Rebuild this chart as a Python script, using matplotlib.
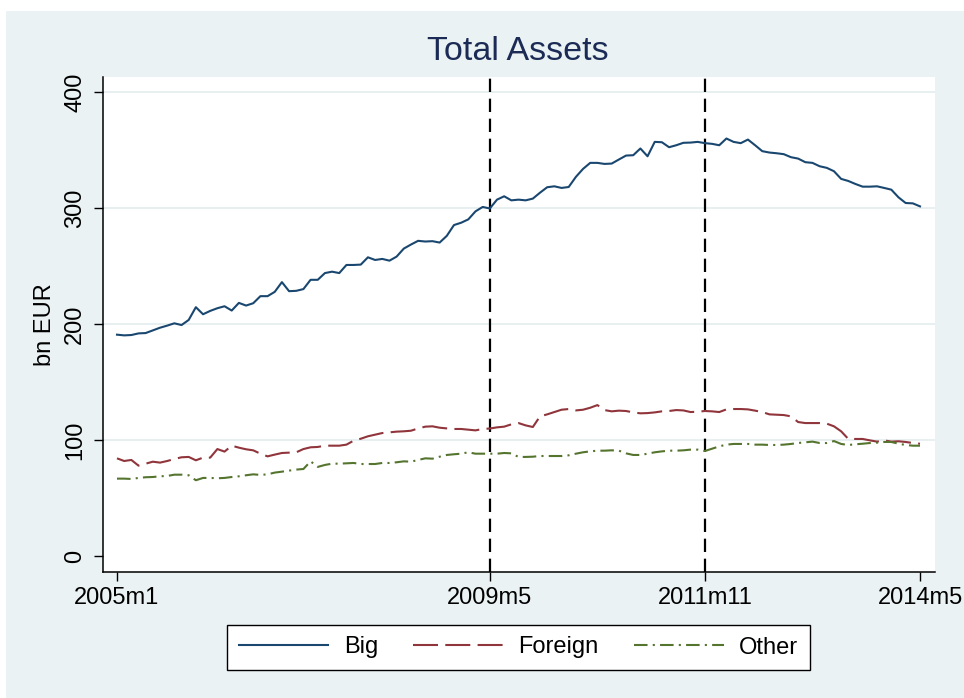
import matplotlib
matplotlib.use("Agg")
import matplotlib.pyplot as plt
from matplotlib.patches import Rectangle
from matplotlib.lines import Line2D

# ---- data (bn EUR), monthly 2005m1 .. 2014m5 ----
big = [190.8, 190.2, 190.5, 191.9, 192.2, 194.5, 196.8, 198.6, 200.6, 199.1,
       203.5, 214.5, 208.4, 211.3, 213.6, 215.3, 211.6, 218.2, 215.9, 217.9,
       224.0, 224.0, 227.7, 236.1, 228.3, 228.6, 230.1, 238.1, 238.1, 243.9,
       245.1, 243.9, 250.9, 250.9, 251.2, 257.5, 255.2, 256.1, 254.6, 258.1,
       265.0, 268.5, 271.7, 271.1, 271.4, 270.2, 276.0, 285.3, 287.3, 290.2,
       297.1, 300.9, 299.6, 307.2, 310.1, 306.6, 307.2, 306.6, 308.1, 313.2,
       317.9, 318.7, 317.3, 318.1, 326.8, 333.7, 338.9, 338.9, 338.0, 338.3,
       341.8, 345.2, 345.5, 351.3, 344.6, 357.0, 356.7, 352.4, 354.1, 356.2,
       356.4, 357.0, 355.9, 355.3, 354.1, 359.9, 357.0, 355.9, 359.0, 354.1,
       349.0, 347.8, 347.2, 346.4, 343.8, 342.6, 339.5, 338.9, 336.0, 334.6,
       331.7, 325.1, 323.3, 320.7, 318.4, 318.4, 318.7, 317.3, 315.8, 309.2,
       304.3, 304.0, 301.4]
foreign = [84.2, 81.9, 82.8, 77.9, 79.6, 81.3, 80.5, 81.9, 83.6, 85.1,
           85.4, 82.5, 84.8, 84.8, 92.2, 90.0, 95.1, 93.4, 92.0, 91.1,
           88.2, 85.9, 87.4, 88.8, 89.1, 89.4, 92.2, 93.7, 94.0, 95.1,
           95.1, 95.1, 96.0, 99.4, 101.1, 103.2, 104.6, 106.0, 106.6, 107.2,
           107.5, 108.0, 110.0, 111.5, 111.8, 110.6, 110.0, 109.5, 109.5, 108.9,
           108.3, 109.5, 109.9, 110.9, 111.5, 113.5, 114.6, 112.6, 111.2, 120.4,
           122.1, 124.1, 126.1, 126.7, 125.5, 126.1, 127.8, 130.1, 125.8, 124.7,
           125.3, 125.0, 123.8, 123.0, 123.2, 123.8, 124.7, 125.0, 125.8, 125.5,
           124.1, 124.4, 125.0, 124.7, 124.1, 126.4, 126.7, 126.7, 126.4, 125.3,
           124.1, 122.1, 121.8, 121.5, 120.4, 115.5, 114.6, 114.6, 114.6, 114.1,
           111.8, 107.5, 100.9, 100.9, 100.9, 99.7, 98.6, 99.7, 98.6, 98.9,
           98.3, 97.4, 96.8]
other = [66.7, 66.7, 66.4, 67.3, 67.9, 68.1, 68.7, 69.0, 70.1, 70.1,
         69.6, 65.3, 67.3, 67.3, 67.0, 67.3, 68.1, 68.7, 69.6, 70.4,
         69.9, 70.4, 71.9, 72.7, 73.6, 74.5, 75.0, 81.6, 76.8, 78.5,
         79.6, 79.6, 79.9, 80.2, 79.3, 79.3, 79.3, 80.2, 80.2, 80.8,
         81.6, 81.3, 82.8, 84.2, 83.9, 85.6, 87.1, 87.7, 88.2, 89.4,
         88.2, 88.2, 88.2, 88.2, 88.8, 88.5, 85.4, 85.4, 85.6, 86.2,
         86.2, 86.2, 86.2, 86.8, 88.2, 89.4, 90.2, 90.8, 90.8, 91.1,
         90.8, 88.5, 87.1, 87.1, 88.2, 89.4, 90.2, 90.8, 90.8, 91.1,
         91.7, 91.7, 90.5, 92.5, 94.5, 96.0, 96.6, 96.6, 96.6, 96.0,
         96.0, 95.7, 95.7, 96.0, 96.6, 97.4, 98.0, 98.6, 97.4, 97.4,
         99.1, 96.6, 95.7, 96.3, 96.8, 97.4, 97.7, 98.3, 98.3, 96.8,
         95.7, 95.1, 95.1]
months = list(range(len(big)))          # 0 = 2005m1
xtick_pos = [0, 52, 82, 112]
xtick_labels = ["2005m1", "2009m5", "2011m11", "2014m5"]
vlines = [52, 82]
yticks = [0, 100, 200, 300, 400]

plt.rcParams['font.family'] = ['Liberation Sans', 'DejaVu Sans']

W, H = 964, 698
fig = plt.figure(figsize=(W / 100, H / 100), dpi=100, facecolor="white")
bg = "#eaf2f3"
fig.patches.append(Rectangle((6 / W, 0), 1 - 6 / W, 1 - 11 / H,
                             transform=fig.transFigure, facecolor=bg,
                             edgecolor="none", zorder=-10))

L, R, T, B = 103, 935, 77, 572
ax = fig.add_axes([L / W, 1 - B / H, (R - L) / W, (B - T) / H])
ax.set_zorder(2)
ax.set_facecolor("white")

c_big, c_for, c_oth = "#1a476f", "#90353b", "#55752f"

for y in yticks[1:]:
    ax.axhline(y, color="#e6eef0", lw=1.3, zorder=1)
for v in vlines:
    ax.axvline(v, color="black", lw=1.6, dashes=(6, 3), zorder=2)

ax.plot(months, big, color=c_big, lw=1.5, zorder=3, label="Big")
ax.plot(months, foreign, color=c_for, lw=1.5, dashes=(12, 3.5), zorder=3,
        label="Foreign")
ax.plot(months, other, color=c_oth, lw=1.5, dashes=(6.5, 2.5, 1, 2.5),
        zorder=3, label="Other")

# x: 7.17 px/month, m0 at px 117
ppm = 7.17
ax.set_xlim(-(117 - L) / ppm, 112 + (R - 920) / ppm)
ppu = 1.16
ax.set_ylim(-(B - 556) / ppu, 400 + (92 - T) / ppu)

for s in ["top", "right"]:
    ax.spines[s].set_visible(False)
for s in ["left", "bottom"]:
    ax.spines[s].set_linewidth(1.1)

fs = 17
ax.set_xticks(xtick_pos)
ax.set_xticklabels(xtick_labels, fontsize=fs)
ax.set_yticks(yticks)
ax.set_yticklabels([str(v) for v in yticks], fontsize=fs, rotation=90,
                   va="center")
ax.tick_params(axis="both", direction="out", length=6.5, width=1.0)
ax.tick_params(axis="x", pad=4.5)
ax.tick_params(axis="y", pad=5.5)

fig.text(45 / W, 1 - 325 / H, "bn EUR", rotation=90, ha="center",
         va="center", fontsize=fs)
fig.text(518 / W, 1 - 52 / H, "Total Assets", ha="center", va="center",
         fontsize=24.5, color="#1c2b55")

handles = [Line2D([], [], color=c_big, lw=1.5),
           Line2D([], [], color=c_for, lw=1.5, dashes=(12, 3.5)),
           Line2D([], [], color=c_oth, lw=1.5, dashes=(6.5, 2.5, 1, 2.5))]
leg = fig.legend(handles, ["Big", "Foreign", "Other"], ncol=3,
                 loc="center", bbox_to_anchor=(518.5 / W, 1 - 647.5 / H),
                 fontsize=fs, frameon=True, fancybox=False, framealpha=1,
                 handlelength=3.8, handletextpad=0.65, columnspacing=1.5,
                 borderpad=0.5, borderaxespad=0)
leg.get_frame().set_edgecolor("black")
leg.get_frame().set_linewidth(1.0)
leg.get_frame().set_facecolor("white")

fig.savefig("out.png", dpi=100, facecolor=fig.get_facecolor())
